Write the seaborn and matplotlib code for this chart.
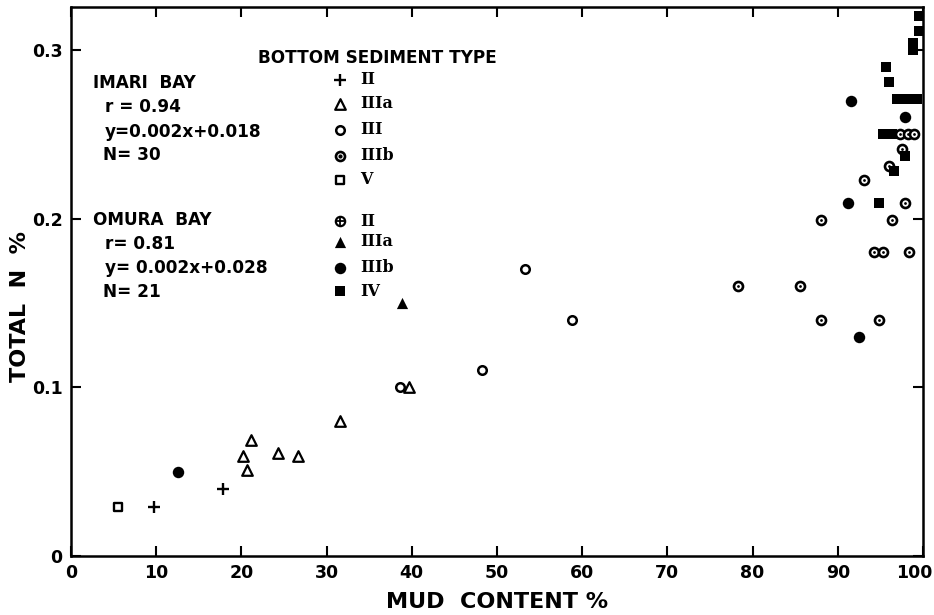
import matplotlib
matplotlib.use("Agg")
import matplotlib.pyplot as plt
import matplotlib.transforms as mtransforms
import seaborn as sns
import pandas as pd

# ---------------- data ----------------
# Imari Bay
imari_II_x = [9.7, 17.8]
imari_II_y = [0.029, 0.040]
imari_IIIa_x = [20.2, 20.6, 21.1, 24.3, 26.7, 31.6, 39.7]
imari_IIIa_y = [0.059, 0.051, 0.069, 0.061, 0.059, 0.080, 0.100]
imari_III_x = [38.6, 48.2, 53.3, 58.8]
imari_III_y = [0.100, 0.110, 0.170, 0.140]
imari_IIIb_x = [78.3, 85.6, 88.0, 94.8, 94.3, 95.3, 98.4, 88.0, 96.4, 97.9,
                93.1, 96.0, 97.5, 97.3, 98.2, 99.0]
imari_IIIb_y = [0.160, 0.160, 0.140, 0.140, 0.180, 0.180, 0.180, 0.199, 0.199, 0.209,
                0.223, 0.231, 0.241, 0.250, 0.250, 0.250]
imari_V_x = [5.5]
imari_V_y = [0.029]
# Omura Bay
omura_IIIa_x = [38.8]
omura_IIIa_y = [0.150]
omura_IIIb_x = [12.6, 91.2, 92.5, 91.5, 97.9]
omura_IIIb_y = [0.050, 0.209, 0.130, 0.270, 0.260]
omura_IV_x = [99.5, 99.5, 98.8, 98.8, 95.7, 96.0, 96.9, 97.7, 98.5, 99.3,
              95.3, 96.4, 97.9, 96.6, 94.8]
omura_IV_y = [0.320, 0.311, 0.304, 0.300, 0.290, 0.281, 0.271, 0.271, 0.271, 0.271,
              0.250, 0.250, 0.237, 0.228, 0.209]

x_ticks = [0, 10, 20, 30, 40, 50, 60, 70, 80, 90, 100]
y_ticks = [0, 0.1, 0.2, 0.3]
y_ticklabels = ["0", "0.1", "0.2", "0.3"]

frames = []
for bay, typ, xs, ys in [
    ("Imari", "II", imari_II_x, imari_II_y),
    ("Imari", "IIIa", imari_IIIa_x, imari_IIIa_y),
    ("Imari", "III", imari_III_x, imari_III_y),
    ("Imari", "IIIb", imari_IIIb_x, imari_IIIb_y),
    ("Imari", "V", imari_V_x, imari_V_y),
    ("Omura", "IIIa", omura_IIIa_x, omura_IIIa_y),
    ("Omura", "IIIb", omura_IIIb_x, omura_IIIb_y),
    ("Omura", "IV", omura_IV_x, omura_IV_y),
]:
    frames.append(pd.DataFrame({"mud": xs, "tn": ys, "bay": bay, "type": typ}))
df = pd.concat(frames, ignore_index=True)

# ---------------- style ----------------
sns.set_style("ticks")
plt.rcParams["font.family"] = ["DejaVu Sans"]
plt.rcParams["font.weight"] = "bold"
plt.rcParams["text.color"] = "black"
plt.rcParams["axes.labelcolor"] = "black"
plt.rcParams["xtick.color"] = "black"
plt.rcParams["ytick.color"] = "black"
plt.rcParams["axes.edgecolor"] = "black"

W, H = 934, 615
fig = plt.figure(figsize=(W / 100, H / 100), dpi=100)
L, R, T, B = 71, 923, 7, 556
ax = fig.add_axes([L / W, 1 - B / H, (R - L) / W, (B - T) / H])

K = "black"
styles = {
    ("Imari", "II"): dict(marker="+", s=85, color=K, linewidth=1.7),
    ("Imari", "IIIa"): dict(marker="^", s=58, facecolor="white", edgecolor=K, linewidth=1.6),
    ("Imari", "III"): dict(marker="o", s=38, facecolor="white", edgecolor=K, linewidth=1.8),
    ("Imari", "IIIb"): dict(marker="o", s=42, facecolor="white", edgecolor=K, linewidth=1.9),
    ("Imari", "V"): dict(marker="s", s=38, facecolor="white", edgecolor=K, linewidth=1.7),
    ("Omura", "IIIa"): dict(marker="^", s=65, color=K, linewidth=0),
    ("Omura", "IIIb"): dict(marker="o", s=68, color=K, linewidth=0),
    ("Omura", "IV"): dict(marker="s", s=52, color=K, linewidth=0),
}
for (bay, typ), kw in styles.items():
    sub = df[(df.bay == bay) & (df.type == typ)]
    sns.scatterplot(data=sub, x="mud", y="tn", ax=ax, legend=False, zorder=3, **kw)
    if (bay, typ) == ("Imari", "IIIb"):
        sns.scatterplot(data=sub, x="mud", y="tn", ax=ax, legend=False, zorder=4,
                        marker="o", s=4, color=K, linewidth=0)

ax.set_xlim(0, 100)
ax.set_ylim(0, (B - T) / 1687)
ax.set_xticks(x_ticks)
ax.set_xticklabels([str(v) for v in x_ticks])
ax.set_yticks(y_ticks)
ax.set_yticklabels(y_ticklabels)
ax.tick_params(axis="both", direction="in", length=7, width=1.5, labelsize=12.5,
               top=True, right=True, pad=6)
for sp in ax.spines.values():
    sp.set_linewidth(1.8)
    sp.set_visible(True)

# nudge the "100" label left so it sits inside the figure like the reference
last = ax.get_xticklabels()[-1]
last.set_transform(last.get_transform() +
                   mtransforms.ScaledTranslation(-9 / 100, 0, fig.dpi_scale_trans))

ax.set_xlabel("MUD  CONTENT %", fontsize=16, fontweight="bold", labelpad=7)
ax.set_ylabel("TOTAL  N  %", fontsize=16, fontweight="bold")
ax.yaxis.set_label_coords((30 - L) / (R - L), (B - 307) / (B - T))

# ---------------- in-plot legend / annotations ----------------
def fx(px):
    return (px - L) / (R - L)

def fy(py):
    return (B - py) / (B - T)

tr = ax.transAxes
ax.text(fx(258), fy(58), "BOTTOM SEDIMENT TYPE", transform=tr, fontsize=12.2,
        fontweight="bold", va="center", ha="left")

left_text = [
    (93, 83, "IMARI  BAY"),
    (105, 107, "r = 0.94"),
    (105, 132, "y=0.002x+0.018"),
    (103, 155, "N= 30"),
    (93, 220, "OMURA  BAY"),
    (105, 244, "r= 0.81"),
    (105, 268, "y= 0.002x+0.028"),
    (103, 292, "N= 21"),
]
for px, py, s in left_text:
    ax.text(fx(px), fy(py), s, transform=tr, fontsize=12.2, fontweight="bold",
            va="center", ha="left")

legend_rows = [
    (80, ("Imari", "II"), "II"),
    (104, ("Imari", "IIIa"), "IIIa"),
    (130, ("Imari", "III"), "III"),
    (156, ("Imari", "IIIb"), "IIIb"),
    (180, ("Imari", "V"), "V"),
    (221, None, "II"),
    (242, ("Omura", "IIIa"), "IIIa"),
    (268, ("Omura", "IIIb"), "IIIb"),
    (291, ("Omura", "IV"), "IV"),
]
mx = 340
for py, key, lab in legend_rows:
    if key is None:
        ax.scatter([fx(mx)], [fy(py)], transform=tr, marker="o", s=45,
                   facecolor="white", edgecolor=K, linewidth=1.6, zorder=5, clip_on=False)
        ax.scatter([fx(mx)], [fy(py)], transform=tr, marker="+", s=30,
                   color=K, linewidth=1.3, zorder=6, clip_on=False)
    else:
        kw = dict(styles[key])
        ax.scatter([fx(mx)], [fy(py)], transform=tr, zorder=5, clip_on=False, **kw)
        if key == ("Imari", "IIIb"):
            ax.scatter([fx(mx)], [fy(py)], transform=tr, marker="o", s=4, color=K,
                       zorder=6)
    ax.text(fx(360), fy(py), lab, transform=tr, fontsize=11.5, fontweight="bold",
            family="DejaVu Serif", va="center", ha="left")

fig.savefig("out.png", dpi=100)
